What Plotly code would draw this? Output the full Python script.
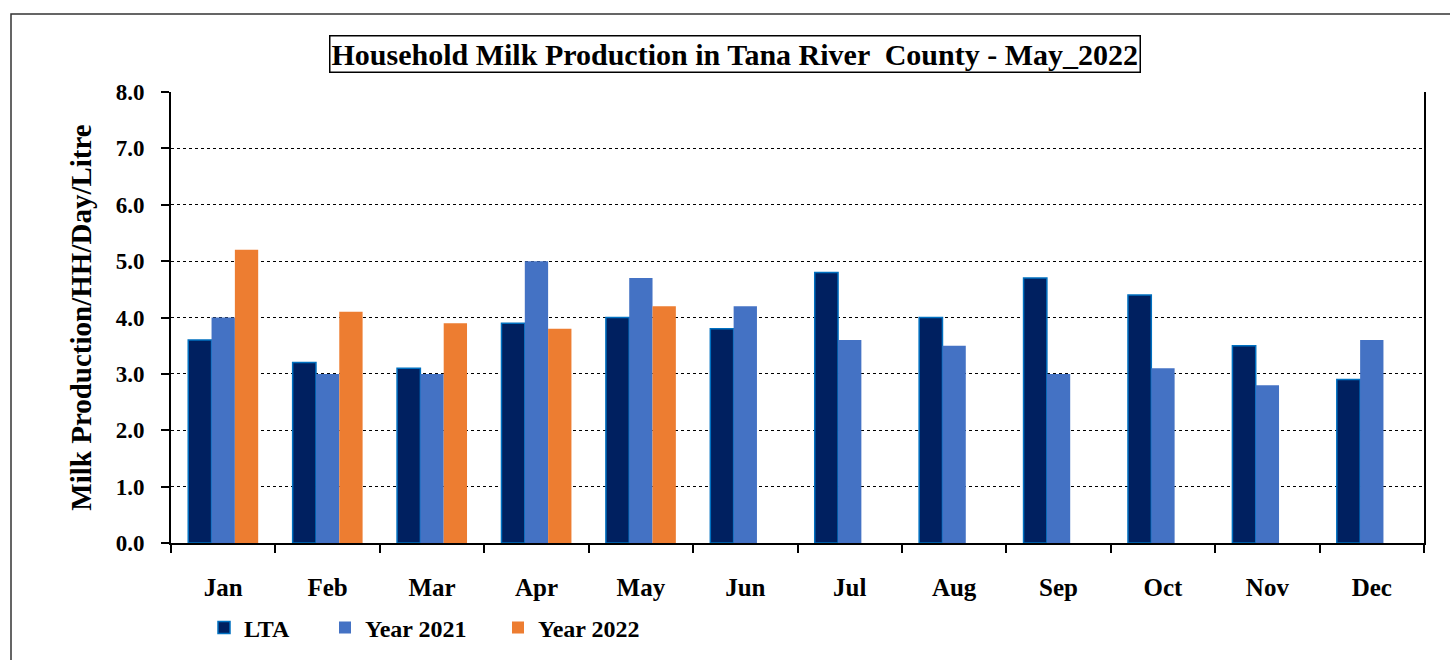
import plotly.graph_objects as go

months = ["Jan", "Feb", "Mar", "Apr", "May", "Jun", "Jul", "Aug", "Sep", "Oct", "Nov", "Dec"]
lta = [3.6, 3.2, 3.1, 3.9, 4.0, 3.8, 4.8, 4.0, 4.7, 4.4, 3.5, 2.9]
year_2021 = [4.0, 3.0, 3.0, 5.0, 4.7, 4.2, 3.6, 3.5, 3.0, 3.1, 2.8, 3.6]
year_2022 = [5.2, 4.1, 3.9, 3.8, 4.2, None, None, None, None, None, None, None]
y_ticks = [0, 1, 2, 3, 4, 5, 6, 7, 8]
y_tick_labels = ["0.0", "1.0", "2.0", "3.0", "4.0", "5.0", "6.0", "7.0", "8.0"]

FONT = "Liberation Serif"

L, R, T, B = 171, 26, 92, 117
W, H = 1450, 660
pw, ph = W - L - R, H - T - B

def px(x):
    return (x - L) / pw

def py(y):
    return (H - B - y) / ph

fig = go.Figure()
fig.add_trace(go.Bar(name="LTA", x=months, y=lta, legend="legend",
                     marker=dict(color="#002060", line=dict(color="#0070C0", width=1.5))))
fig.add_trace(go.Bar(name="Year 2021", x=months, y=year_2021, legend="legend2",
                     marker=dict(color="#4472C4", line=dict(width=0))))
fig.add_trace(go.Bar(name="Year 2022", x=months, y=year_2022, legend="legend3",
                     marker=dict(color="#ED7D31", line=dict(width=0))))

legfont = dict(family=FONT, size=24, color="black", weight="bold")

def leg(xpix):
    return dict(x=px(xpix), y=py(628), xanchor="left", yanchor="middle", font=legfont,
                itemwidth=30, bgcolor="rgba(0,0,0,0)", borderwidth=0)

fig.update_layout(
    width=W, height=H,
    margin=dict(l=L, r=R, t=T, b=B, autoexpand=False),
    paper_bgcolor="white", plot_bgcolor="white",
    barmode="group", bargap=0.33, bargroupgap=0,
    font=dict(family=FONT, color="black"),
    showlegend=True,
    legend=leg(204),
    legend2=leg(325),
    legend3=leg(498),
    xaxis=dict(type="category", tickson="boundaries", ticks="outside", ticklen=8, tickwidth=1.5,
               tickcolor="black", showline=True, linecolor="black", linewidth=2,
               showgrid=False, ticklabelstandoff=21, automargin=False,
               tickfont=dict(family=FONT, size=25, color="black", weight="bold"),
               range=[-0.5, 11.5]),
    yaxis=dict(range=[0, 8], tickvals=y_ticks, ticktext=y_tick_labels, ticks="outside", ticklen=8,
               tickwidth=1.5, tickcolor="black", showline=True, linecolor="black", linewidth=2,
               mirror=True, showgrid=True, gridcolor="black", gridwidth=1.3, griddash="dot",
               zeroline=False, ticklabelstandoff=12, automargin=False,
               tickfont=dict(family=FONT, size=23, color="black", weight="bold"),
               title=dict(text="Milk Production/HH/Day/Litre", standoff=16,
                          font=dict(family=FONT, size=29, color="black", weight="bold"))),
    annotations=[dict(text="Household Milk Production in Tana River  County - May_2022",
                      xref="paper", yref="paper", x=px(735), y=py(54), xanchor="center", yanchor="middle",
                      showarrow=False, font=dict(family=FONT, size=30, color="black", weight="bold"),
                      bordercolor="black", borderwidth=1.5, borderpad=1, bgcolor="white")],
    shapes=[dict(type="rect", xref="paper", yref="paper", x0=px(11), x1=px(1460), y0=py(680), y1=py(14),
                 line=dict(color="#333333", width=1.5), fillcolor="rgba(0,0,0,0)", layer="below")],
)

fig.write_html("out.html")
